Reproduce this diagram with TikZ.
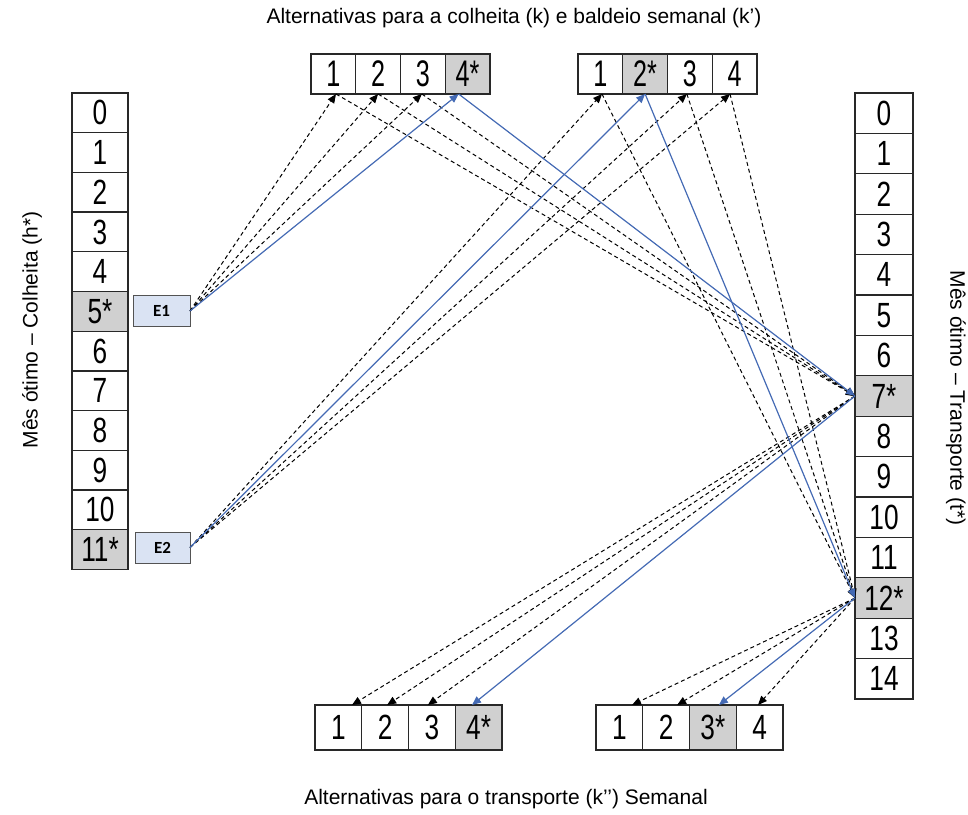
\documentclass[tikz,border=0pt]{standalone}
\usepackage{fontspec}
\setmainfont{Liberation Sans}
\newfontfamily\colfont[FakeStretch=0.75]{Liberation Sans}
\newfontfamily\topfont[FakeStretch=0.68]{Liberation Sans}
\newfontfamily\botfont[FakeStretch=0.75]{Liberation Sans}
\newfontfamily\efont{Carlito}
\usetikzlibrary{arrows.meta}
\definecolor{starfill}{RGB}{208,208,208}
\definecolor{lineblue}{RGB}{68,106,180}
\definecolor{efill}{RGB}{218,227,243}
\definecolor{boxline}{RGB}{40,40,40}
\begin{document}
\begin{tikzpicture}[x=1pt,y=-1pt,
  basecell/.style={draw=boxline,line width=1.3pt,fill=white,inner sep=0pt,outer sep=0pt},
  lcell/.style={basecell,minimum width=56pt,minimum height=39.7pt,font={\colfont\fontsize{35}{35}\selectfont}},
  rcell/.style={basecell,minimum width=58pt,minimum height=40.4pt,font={\colfont\fontsize{35}{35}\selectfont}},
  tcell/.style={basecell,minimum width=44.75pt,minimum height=40pt,font={\topfont\fontsize{37}{37}\selectfont}},
  bcell/.style={basecell,minimum width=46.75pt,minimum height=45pt,font={\botfont\fontsize{35}{35}\selectfont}},
  star/.style={fill=starfill},
  lstar/.style={lcell,star},
  rstar/.style={rcell,star},
  tstar/.style={tcell,star},
  bstar/.style={bcell,star},
  ebox/.style={draw=boxline!80,line width=0.8pt,fill=efill,inner sep=0pt,outer sep=0pt,minimum height=31pt,font={\efont\bfseries\fontsize{17}{17}\selectfont}},
  lbl/.style={font={\fontsize{21}{21}\selectfont},inner sep=0pt},
  dline/.style={draw=black,line width=1pt,dash pattern=on 4pt off 3pt,-{Triangle[length=9pt,width=7.5pt]}},
  bline/.style={draw=lineblue,line width=1.2pt,-{Triangle[length=9pt,width=7.5pt,fill=lineblue]}}
]
\useasboundingbox (0,0) rectangle (968,814);

% titles
\node[lbl] (ttop) at (514,18) {Alternativas para a colheita (k) e baldeio semanal (k’)};
\node[lbl] (tbot) at (506,799) {Alternativas para o transporte (k’’) Semanal};
\node[lbl,rotate=90] (tleft) at (32,330) {Mês ótimo – Colheita (h*)};
\node[lbl,rotate=-90] (tright) at (956,398) {Mês ótimo – Transporte (t*)};

% left column
\foreach \t/\s [count=\i from 0] in {0/lcell,1/lcell,2/lcell,3/lcell,4/lcell,5*/lstar,6/lcell,7/lcell,8/lcell,9/lcell,10/lcell,11*/lstar}
  \node[\s] (L\i) at (100,{93+39.7*(\i+0.5)}) {\t};

% right column
\foreach \t/\s [count=\i from 0] in {0/rcell,1/rcell,2/rcell,3/rcell,4/rcell,5/rcell,6/rcell,7*/rstar,8/rcell,9/rcell,10/rcell,11/rcell,12*/rstar,13/rcell,14/rcell}
  \node[\s] (R\i) at (884,{93+40.4*(\i+0.5)}) {\t};

% top boxes
\foreach \t/\s [count=\i] in {1/tcell,2/tcell,3/tcell,4*/tstar}
  \node[\s] (TA\i) at ({311+44.75*(\i-0.5)},74) {\t};
\foreach \t/\s [count=\i] in {1/tcell,2*/tstar,3/tcell,4/tcell}
  \node[\s] (TB\i) at ({578+44.75*(\i-0.5)},74) {\t};

% bottom boxes
\foreach \t/\s [count=\i] in {1/bcell,2/bcell,3/bcell,4*/bstar}
  \node[\s] (BA\i) at ({315+46.75*(\i-0.5)},727.5) {\t};
\foreach \t/\s [count=\i] in {1/bcell,2/bcell,3*/bstar,4/bcell}
  \node[\s] (BB\i) at ({596+46.75*(\i-0.5)},727.5) {\t};

% E boxes
\node[ebox,minimum width=57pt] (E1) at (161.5,311) {E1};
\node[ebox,minimum width=55pt] (E2) at (162.5,547.5) {E2};

% end points on the boxes
\coordinate (ta1) at ([xshift=2.6pt]TA1.south);
\coordinate (ta2) at (TA2.south);
\coordinate (ta3) at ([xshift=-1pt]TA3.south);
\coordinate (ta4) at ([xshift=-9pt]TA4.south);
\coordinate (tb1) at ([xshift=1.6pt]TB1.south);
\coordinate (tb2) at (TB2.south);
\coordinate (tb3) at ([xshift=-3pt]TB3.south);
\coordinate (tb4) at ([xshift=-4.6pt]TB4.south);
\coordinate (ba1) at ([xshift=13.6pt]BA1.north);
\coordinate (ba2) at ([xshift=2pt]BA2.north);
\coordinate (ba3) at ([xshift=-4pt]BA3.north);
\coordinate (ba4) at ([xshift=-6.6pt]BA4.north);
\coordinate (bb1) at ([xshift=12.6pt]BB1.north);
\coordinate (bb2) at ([xshift=11pt]BB2.north);
\coordinate (bb3) at ([xshift=6pt]BB3.north);
\coordinate (bb4) at ([xshift=-1.6pt]BB4.north);

% dashed connectors
\foreach \c in {ta1,ta2,ta3} {
  \draw[dline] (E1.east) -- (\c);
  \draw[dline] (\c) -- (R7.west);
}
\foreach \c in {tb1,tb3,tb4} {
  \draw[dline] (E2.east) -- (\c);
  \draw[dline] (\c) -- (R12.west);
}
\foreach \c in {ba1,ba2,ba3}
  \draw[dline] (R7.west) -- (\c);
\foreach \c in {bb1,bb2,bb4}
  \draw[dline] (R12.west) -- (\c);

% optimal path (blue)
\draw[bline] (E1.east) -- (ta4);
\draw[bline] (ta4) -- (R7.west);
\draw[bline] (R7.west) -- (ba4);
\draw[bline] (E2.east) -- (tb2);
\draw[bline] (tb2) -- (R12.west);
\draw[bline] (R12.west) -- (bb3);
\end{tikzpicture}
\end{document}
